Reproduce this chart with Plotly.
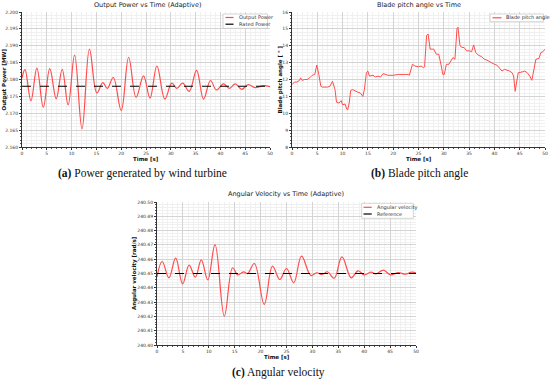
import plotly.graph_objects as go

# ---------------- data ----------------
# (a) Output power [MW] - extrema
power_t = [0, 0.6, 1.8, 3.0, 4.3, 5.6, 6.9, 8.1, 9.3, 10.6, 12.1, 13.6, 15.1, 16.3, 17.2,
           18.4, 20.0, 21.5, 23.0, 24.5, 25.8, 27.2, 28.8, 30.2, 31.2, 32.4, 33.7, 35.2,
           36.6, 38.0, 39.2, 40.6, 41.8, 43.0, 44.3, 45.6, 47.0, 48.7, 50]
power_v = [2.1804, 2.1829, 2.1737, 2.1834, 2.1718, 2.1832, 2.1743, 2.1830, 2.1725, 2.1872,
           2.1654, 2.1890, 2.1760, 2.1791, 2.1774, 2.1806, 2.1708, 2.1866, 2.1747, 2.1811,
           2.1745, 2.1840, 2.1742, 2.1789, 2.1774, 2.1789, 2.1765, 2.1827, 2.1742, 2.1797,
           2.1769, 2.1787, 2.1774, 2.1787, 2.1771, 2.1785, 2.1776, 2.1782, 2.1779]
rated_power = 2.178

# (b) Blade pitch angle [deg]
pitch_t = [0, 0.5, 1, 1.5, 1.7, 2, 2.5, 3, 3.5, 4, 4.5, 4.9, 5.3, 5.7, 6, 7, 7.5, 8.0, 8.5,
           8.8, 9.3, 9.7, 10, 10.5, 10.8, 11, 11.3, 11.6, 12, 12.5, 13, 13.5, 14, 14.3, 14.7,
           15, 15.3, 16, 16.5, 17, 17.5, 18, 18.5, 19, 20, 21, 22, 23, 23.2, 23.8, 24.3, 25,
           25.5, 26, 26.2, 26.6, 26.9, 27.3, 27.7, 28, 28.5, 29, 29.5, 29.8, 30.1, 30.5, 31,
           31.5, 31.8, 32.2, 32.6, 32.8, 33.2, 33.6, 34, 34.5, 35, 35.5, 35.9, 36.3, 36.8,
           37.5, 38, 38.5, 39, 39.5, 40, 40.5, 41, 41.5, 42, 42.5, 43, 43.5, 43.8, 44.1, 44.4,
           44.7, 45.5, 46, 46.5, 47.0, 47.4, 47.8, 48.2, 48.8, 49.2, 49.6, 50]
pitch_v = [11.7, 11.85, 11.85, 11.95, 12.1, 11.95, 12.0, 12.0, 12.1, 12.25, 12.3, 12.85, 12.3,
           11.6, 11.55, 11.55, 11.6, 11.9, 11.4, 10.65, 10.6, 10.75, 10.5, 10.55, 10.25, 10.2,
           10.6, 11.35, 11.4, 11.3, 11.25, 11.2, 11.0, 11.4, 12.4, 12.5, 12.2, 12.25, 12.15,
           12.2, 12.15, 12.35, 12.3, 12.25, 12.25, 12.3, 12.3, 12.3, 12.25, 12.9, 12.8, 12.75,
           12.8, 12.7, 12.75, 14.6, 14.7, 13.8, 13.8, 13.8, 13.5, 13.5, 12.8, 12.3, 12.3, 12.9,
           12.9, 13.2, 13.3, 13.2, 15.0, 15.1, 14.0, 13.9, 13.9, 13.7, 13.7, 13.65, 14.05, 13.6,
           13.45, 13.35, 13.2, 13.15, 13.05, 12.95, 12.9, 12.85, 12.7, 12.5, 12.6, 12.55, 12.5,
           12.4, 12.2, 11.3, 11.8, 12.4, 12.45, 12.5, 12.4, 12.2, 11.95, 12.6, 13.2, 13.25, 13.6,
           13.65, 13.8]

# (c) Angular velocity [rad/s]
omega_t = [0, 1.0, 2.3, 3.6, 4.95, 6.2, 7.4, 8.55, 9.8, 11.2, 13.0, 14.6, 15.6, 16.7, 17.5,
           18.8, 20.7, 22.3, 23.7, 25.0, 26.4, 27.9, 29.7, 30.8, 31.9, 32.9, 34.2, 35.7, 37.5,
           38.8, 40.0, 41.3, 42.3, 43.7, 45.1, 46.6, 47.9, 49.2, 50]
omega_v = [240.4477, 240.4584, 240.4470, 240.4607, 240.4428, 240.4558, 240.4474, 240.4595,
           240.4456, 240.4702, 240.4202, 240.4540, 240.4490, 240.4512, 240.4500, 240.4570,
           240.4284, 240.4551, 240.4458, 240.4535, 240.4435, 240.4621, 240.4486, 240.4505,
           240.4493, 240.4512, 240.4467, 240.4616, 240.4470, 240.4519, 240.4490, 240.4509,
           240.4498, 240.4523, 240.4490, 240.4507, 240.4495, 240.4509, 240.4505]
omega_ref = 240.45

legend_a = ["Output Power", "Rated Power"]
legend_b = ["Blade pitch angle"]
legend_c = ["Angular velocity", "Reference"]

RED = "#ff4d4d"
FONT = "DejaVu Sans"
W, H = 550, 381

fig = go.Figure()

fig.add_trace(go.Scatter(x=power_t, y=power_v, mode="lines", name=legend_a[0],
                         line=dict(color=RED, width=1.2, shape="spline", smoothing=1.1),
                         xaxis="x", yaxis="y"))
fig.add_trace(go.Scatter(x=[0, 50], y=[rated_power, rated_power], mode="lines", name=legend_a[1],
                         line=dict(color="black", width=1.2, dash="dash"),
                         xaxis="x", yaxis="y"))
fig.add_trace(go.Scatter(x=pitch_t, y=pitch_v, mode="lines", name=legend_b[0],
                         line=dict(color=RED, width=1.0),
                         xaxis="x2", yaxis="y2"))
fig.add_trace(go.Scatter(x=omega_t, y=omega_v, mode="lines", name=legend_c[0],
                         line=dict(color=RED, width=1.2, shape="spline", smoothing=1.1),
                         xaxis="x3", yaxis="y3"))
fig.add_trace(go.Scatter(x=[0, 50], y=[omega_ref, omega_ref], mode="lines", name=legend_c[1],
                         line=dict(color="black", width=1.2, dash="dash"),
                         xaxis="x3", yaxis="y3"))

tickfont = dict(family=FONT, size=4.5, color="#333")


def xax(domain, anchor):
    return dict(domain=domain, anchor=anchor, range=[0, 50], dtick=5, tick0=0,
                automargin=False,
                showgrid=True, gridcolor="#d4d4d4", gridwidth=1.2,
                minor=dict(dtick=1, showgrid=True, gridcolor="#f0f0f0", gridwidth=0.8,
                           ticks="outside", ticklen=1, tickcolor="#555"),
                showline=True, linecolor="#333", linewidth=1, ticks="outside", ticklen=1.5,
                tickcolor="#333", tickfont=tickfont, zeroline=False)


def yax(domain, anchor, rng, dtick, minor, fmt):
    return dict(domain=domain, anchor=anchor, range=rng, dtick=dtick, tick0=rng[0],
                automargin=False,
                showgrid=True, gridcolor="#d4d4d4", gridwidth=1.2,
                minor=dict(dtick=minor, showgrid=True, gridcolor="#f0f0f0", gridwidth=0.8,
                           ticks="outside", ticklen=1, tickcolor="#555"),
                showline=True, linecolor="#333", linewidth=1, ticks="outside", ticklen=2,
                tickcolor="#333", tickfont=tickfont, tickformat=fmt, zeroline=False)


ya = [1 - 147 / H, 1 - 12 / H]
yc = [1 - 345 / H, 1 - 202 / H]
fig.update_layout(
    width=W, height=H, margin=dict(l=0, r=0, t=0, b=0),
    paper_bgcolor="white", plot_bgcolor="white",
    xaxis=xax([22 / W, 270 / W], "y"),
    yaxis=yax(ya, "x", [2.160, 2.200], 0.005, 0.001, ".3f"),
    xaxis2=xax([292 / W, 545 / W], "y2"),
    yaxis2=yax(ya, "x2", [8, 16], 1, 0.2, "d"),
    xaxis3=xax([157 / W, 416 / W], "y3"),
    yaxis3=yax(yc, "x3", [240.40, 240.50], 0.01, 0.002, ".2f"),
    showlegend=False,
)

# ---- custom legends (boxes, line samples, labels) ----
shapes = []
ann = []
legfont = dict(family=FONT, size=5, color="#333")


def px(x):
    return x / W


def py(y):
    return 1 - y / H


def legend_box(x0, y0, x1, y1, entries):
    shapes.append(dict(type="rect", xref="paper", yref="paper", x0=px(x0), x1=px(x1),
                       y0=py(y0), y1=py(y1), line=dict(color="#bbbbbb", width=0.6),
                       fillcolor="white", layer="above"))
    for (label, color, dash, yy, lx0, lx1, tx) in entries:
        shapes.append(dict(type="line", xref="paper", yref="paper", x0=px(lx0), x1=px(lx1),
                           y0=py(yy), y1=py(yy), line=dict(color=color, width=1.2, dash=dash),
                           layer="above"))
        ann.append(dict(text=label, x=px(tx), y=py(yy), xanchor="left", yanchor="middle",
                        font=legfont, xref="paper", yref="paper", showarrow=False))


legend_box(223, 14, 267.5, 28.3, [
    (legend_a[0], RED, "solid", 17.5, 225.5, 233.5, 236.5),
    (legend_a[1], "black", "dash", 24.2, 225.5, 233.5, 236.5),
])
legend_box(490, 14, 543.5, 21.7, [
    (legend_b[0], RED, "solid", 17.8, 492.5, 501.5, 504),
])
legend_box(361.7, 203.3, 413.3, 218.3, [
    (legend_c[0], RED, "solid", 207.3, 363.5, 371.7, 374.5),
    (legend_c[1], "black", "dash", 214.0, 363.5, 371.7, 374.5),
])

# titles, axis titles and captions
title_font = dict(family=FONT, size=6.5, color="#222")
axt_font = dict(family=FONT, size=5.5, color="#111")
cap_font = dict(family="Liberation Serif", size=11.5, color="#111")
txt = [
    ("Output Power vs Time (Adaptive)", 147, 5, title_font, 0),
    ("Blade pitch angle vs Time", 418.5, 5, title_font, 0),
    ("Angular Velocity vs Time (Adaptive)", 286, 194, title_font, 0),
    ("<b>Time [s]</b>", 146, 158.8, axt_font, 0),
    ("<b>Time [s]</b>", 419, 158.8, axt_font, 0),
    ("<b>Time [s]</b>", 277, 356.8, axt_font, 0),
    ("<b>Output Power [MW]</b>", 4, 79.5, axt_font, -90),
    ("<b>Blade pitch angle [ ° ]</b>", 280, 79.5, axt_font, -90),
    ("<b>Angular velocity [rad/s]</b>", 134.5, 273.5, axt_font, -90),
    ("<b>(a)</b> Power generated by wind turbine", 142.5, 173, cap_font, 0),
    ("<b>(b)</b> Blade pitch angle", 419.5, 173, cap_font, 0),
    ("<b>(c)</b> Angular velocity", 278, 372, cap_font, 0),
]
for t, x, y, f, ang in txt:
    ann.append(dict(text=t, x=px(x), y=py(y), xref="paper", yref="paper", showarrow=False,
                    xanchor="center", yanchor="middle", font=f, textangle=ang))

fig.update_layout(shapes=shapes, annotations=ann)

fig.write_html("out.html", config={"displayModeBar": False},
               post_script="document.body.style.margin='0';document.body.style.padding='0';")
